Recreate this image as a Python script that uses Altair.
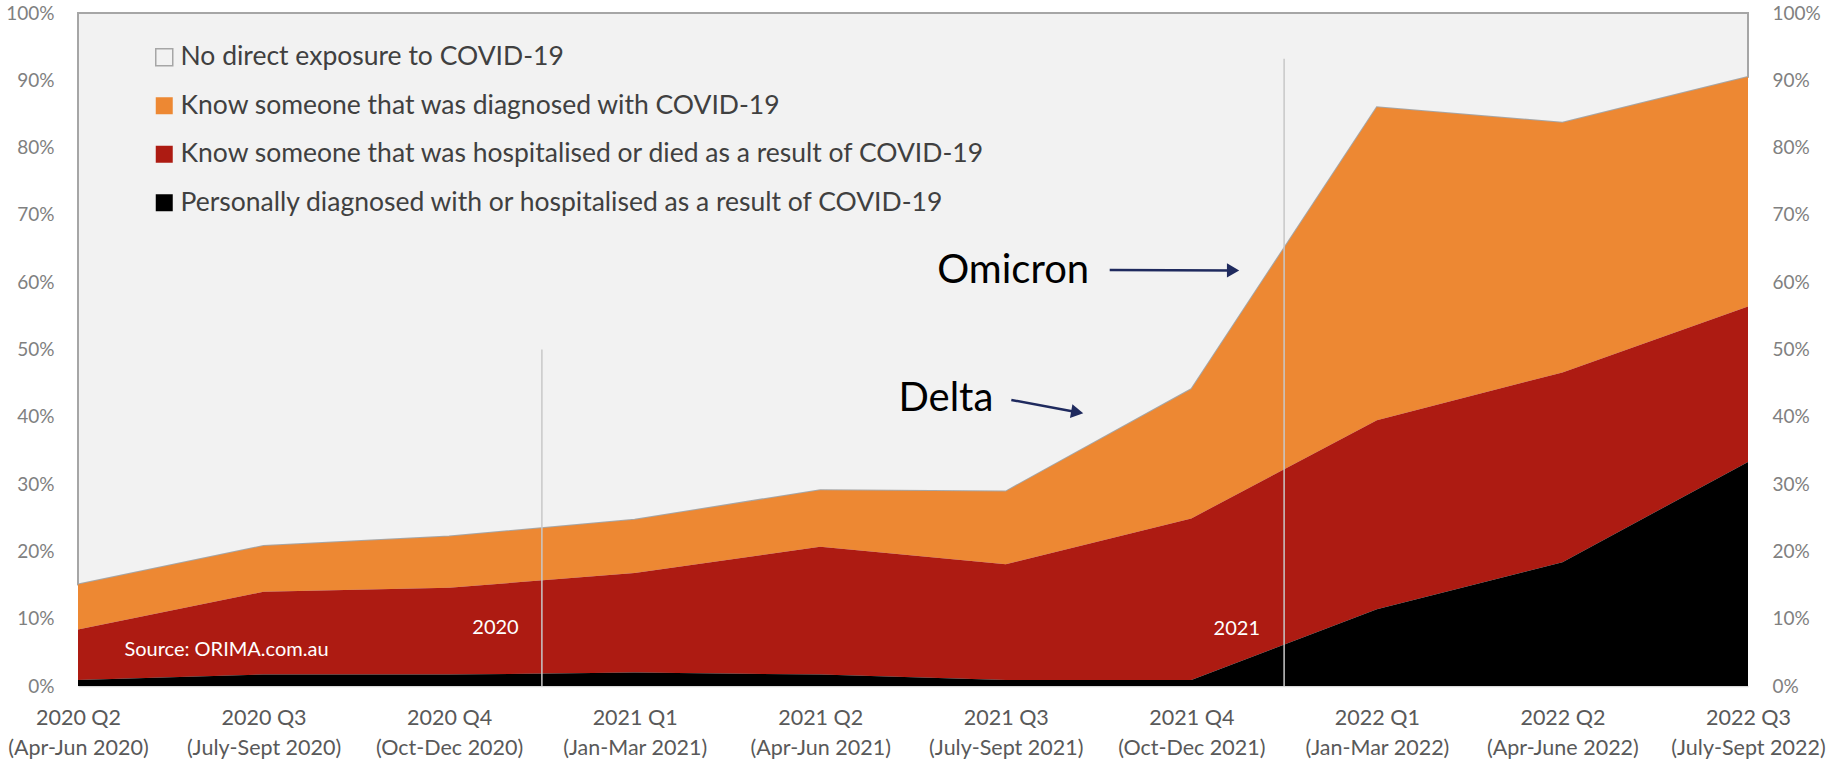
import json
import altair as alt
import pandas as pd

# Survey waves (x axis)
quarters = ["2020 Q2", "2020 Q3", "2020 Q4", "2021 Q1", "2021 Q2",
            "2021 Q3", "2021 Q4", "2022 Q1", "2022 Q2", "2022 Q3"]
periods = ["(Apr-Jun 2020)", "(July-Sept 2020)", "(Oct-Dec 2020)", "(Jan-Mar 2021)",
           "(Apr-Jun 2021)", "(July-Sept 2021)", "(Oct-Dec 2021)", "(Jan-Mar 2022)",
           "(Apr-June 2022)", "(July-Sept 2022)"]

# Share of respondents (%) in each exposure group, stacked bottom to top
personal = [0.9, 1.7, 1.7, 2.0, 1.7, 0.9, 0.9, 11.4, 18.4, 33.3]
hospitalised = [7.5, 12.3, 12.9, 14.8, 19.0, 17.2, 24.0, 28.1, 28.2, 23.1]
diagnosed = [6.7, 6.8, 7.6, 7.9, 8.4, 10.8, 19.2, 46.5, 37.1, 34.1]
no_exposure = [84.9, 79.2, 77.8, 75.3, 70.9, 71.1, 55.9, 14.0, 16.3, 9.5]

series_names = [
    "No direct exposure to COVID-19",
    "Know someone that was diagnosed with COVID-19",
    "Know someone that was hospitalised or died as a result of COVID-19",
    "Personally diagnosed with or hospitalised as a result of COVID-19",
]
series_values = [no_exposure, diagnosed, hospitalised, personal]
fill_colors = ["#F2F2F2", "#ED8833", "#AD1B12", "#000000"]
stroke_colors = ["#A6A6A6", "transparent", "transparent", "transparent"]

# Year dividers
divider_x = [2.5, 6.5]
divider_top = [50, 93.2]

# Annotations
source_text = ["Source: ORIMA.com.au"]
source_x = [0.25]
source_y = [5.3]
year_text = ["2020", "2021"]
year_x = [2.25, 6.245]
year_y = [8.6, 8.4]
variant_text = ["Delta", "Omicron"]
variant_x = [4.677, 5.04]
variant_y = [42.7, 61.6]
arrow_x0 = [5.03, 5.56]
arrow_y0 = [42.5, 61.8]
arrow_x1 = [5.40, 6.23]
arrow_y1 = [40.6, 61.75]
head_x = [5.385, 6.225]
head_y = [40.68, 61.75]
head_angle = [10, 0]

FONT = "Lato"
NAVY = "#1F2A5E"

rows = []
for rank, (name, vals) in enumerate(zip(series_names, series_values)):
    for i, v in enumerate(vals):
        rows.append({"idx": i, "series": name, "value": v, "rank": 3 - rank})
df = pd.DataFrame(rows)

x_labels = json.dumps([[q, p] for q, p in zip(quarters, periods)])
x_scale = alt.Scale(domain=[0, 9], nice=False, zero=False)
y_scale = alt.Scale(domain=[0, 100], nice=False)

x_axis = alt.Axis(
    title=None, values=list(range(10)), labelExpr=f"{x_labels}[datum.value]",
    labelFont=FONT, labelFontSize=21.5, labelColor="#595959", labelLineHeight=30,
    labelPadding=21, labelFlush=False, labelOverlap=False, labelBound=False,
    ticks=False, grid=False, domainColor="#D9D9D9", domainWidth=1.5,
)


def y_axis(side):
    return alt.Axis(
        title=None, orient=side, values=list(range(0, 101, 10)),
        labelExpr="datum.value + '%'", labelFont=FONT, labelFontSize=19,
        labelColor="#808080", labelPadding=24, ticks=False, domain=False, grid=False,
    )


def xq(field):
    return alt.X(field, scale=x_scale, axis=x_axis)


legend = alt.Legend(
    title=None, orient="none", legendX=73, legendY=31,
    symbolType="square", symbolSize=289, symbolStrokeWidth=1.5,
    labelFont=FONT, labelFontSize=26.5, labelColor="#404040",
    labelOffset=3, rowPadding=21.5, labelLimit=1200, padding=0,
)

area = alt.Chart(df).mark_area(strokeWidth=2).encode(
    x=xq("idx:Q"),
    y=alt.Y("value:Q", stack="zero", scale=y_scale, axis=y_axis("left")),
    fill=alt.Fill("series:N", scale=alt.Scale(domain=series_names, range=fill_colors), legend=legend),
    stroke=alt.Stroke("series:N", scale=alt.Scale(domain=series_names, range=stroke_colors), legend=legend),
    order=alt.Order("rank:Q"),
)

div_df = pd.DataFrame({"x": divider_x, "y0": [0, 0], "y1": divider_top})
dividers = alt.Chart(div_df).mark_rule(color="#C8C8C8", strokeWidth=1.5).encode(
    x=xq("x:Q"),
    y=alt.Y("y0:Q", scale=y_scale, axis=y_axis("right")),
    y2="y1:Q",
)

src = alt.Chart(pd.DataFrame({"x": source_x, "y": source_y, "t": source_text})).mark_text(
    align="left", baseline="middle", font=FONT, fontSize=20, color="white"
).encode(x=xq("x:Q"), y=alt.Y("y:Q", scale=y_scale, axis=None), text="t:N")

years = alt.Chart(pd.DataFrame({"x": year_x, "y": year_y, "t": year_text})).mark_text(
    align="center", baseline="middle", font=FONT, fontSize=20, color="white"
).encode(x=xq("x:Q"), y=alt.Y("y:Q", scale=y_scale, axis=None), text="t:N")

variants = alt.Chart(pd.DataFrame({"x": variant_x, "y": variant_y, "t": variant_text})).mark_text(
    align="center", baseline="middle", font=FONT, fontSize=40, color="black"
).encode(x=xq("x:Q"), y=alt.Y("y:Q", scale=y_scale, axis=None), text="t:N")

shaft_rows = []
for k in range(len(arrow_x0)):
    shaft_rows.append({"a": k, "s": 0, "x": arrow_x0[k], "y": arrow_y0[k]})
    shaft_rows.append({"a": k, "s": 1, "x": arrow_x1[k], "y": arrow_y1[k]})
shafts = alt.Chart(pd.DataFrame(shaft_rows)).mark_line(color=NAVY, strokeWidth=2.5).encode(
    x=xq("x:Q"), y=alt.Y("y:Q", scale=y_scale, axis=None),
    detail="a:N", order="s:Q",
)
heads = alt.Chart(pd.DataFrame({"x": head_x, "y": head_y, "ang": head_angle})).mark_point(
    shape="triangle-right", filled=True, size=200, color=NAVY, opacity=1
).encode(
    x=xq("x:Q"), y=alt.Y("y:Q", scale=y_scale, axis=None),
    angle=alt.Angle("ang:Q", scale=None),
)

chart = alt.layer(area, dividers, src, years, variants, shafts, heads).resolve_axis(
    y="independent"
).properties(
    width=1670, height=673,
    autosize=alt.AutoSizeParams(type="none"),
    padding={"left": 78, "top": 13, "right": 79, "bottom": 74},
    background="white",
).configure_view(stroke=None, fill="#F2F2F2")

chart.save("out.html", embed_options={"renderer": "svg", "actions": False})
